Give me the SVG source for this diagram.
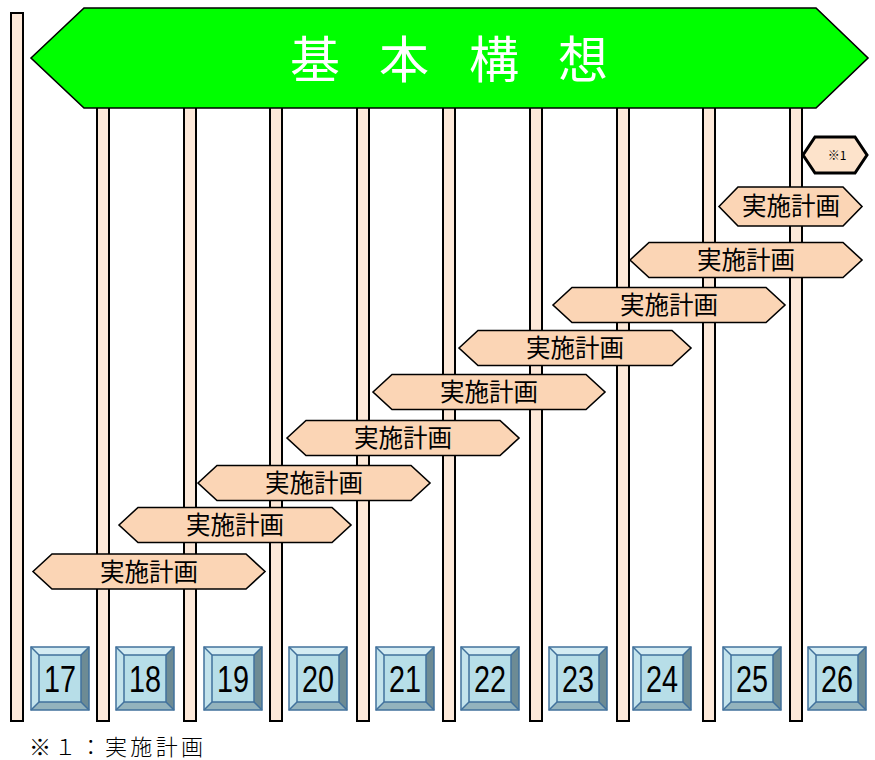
<svg xmlns="http://www.w3.org/2000/svg" xmlns:xlink="http://www.w3.org/1999/xlink" width="875" height="760" viewBox="0 0 875 760">
<style>
.post{fill:#FDE9D9;stroke:#000;stroke-width:2}
.hex{fill:#FBD5B5;stroke:#000;stroke-width:1.6;stroke-linejoin:miter}
.ht{font-family:"Noto Sans CJK JP","Noto Sans",sans-serif;font-size:24.5px;fill:#000;text-anchor:middle}
.num{font-family:"Liberation Sans",Arial,sans-serif;font-size:37px;fill:#000;text-anchor:middle}
.bl{fill:none;stroke:#41719C;stroke-width:1.5}
.tt{font-family:"Noto Sans CJK JP","Noto Sans",sans-serif;font-size:50px;fill:#fff;text-anchor:middle}
.sm{font-family:"Noto Sans CJK JP","Noto Sans",sans-serif;font-size:12px;fill:#000;text-anchor:middle}
.fn{font-family:"Liberation Serif","Noto Sans CJK JP",serif;font-size:22px;font-weight:300;fill:#000}
</style>
<defs>
<path id="hx" d="M0,17.5 L19,0 L213,0 L232,17.5 L213,35 L19,35 Z"/>
<g id="bev">
<rect x="0" y="0" width="58" height="63" fill="#B7DEE8"/>
<polygon points="0,0 58,0 50,8 8,8" fill="#D4ECF3"/>
<polygon points="0,0 8,8 8,55 0,63" fill="#C3E3EC"/>
<polygon points="58,0 58,63 50,55 50,8" fill="#6D8B94"/>
<polygon points="0,63 8,55 50,55 58,63" fill="#93B3BD"/>
<rect class="bl" x="0" y="0" width="58" height="63"/>
<rect class="bl" x="8" y="8" width="42" height="47"/>
<path class="bl" d="M0,0 L8,8 M58,0 L50,8 M0,63 L8,55 M58,63 L50,55"/>
</g>
</defs>
<rect width="875" height="760" fill="#fff"/>
<g id="posts">
<rect class="post" x="11" y="13" width="12" height="708"/>
<rect class="post" x="97" y="100" width="12" height="621"/>
<rect class="post" x="184" y="100" width="12" height="621"/>
<rect class="post" x="270" y="100" width="12" height="621"/>
<rect class="post" x="357" y="100" width="12" height="621"/>
<rect class="post" x="443" y="100" width="12" height="621"/>
<rect class="post" x="530" y="100" width="12" height="621"/>
<rect class="post" x="617" y="100" width="12" height="621"/>
<rect class="post" x="703" y="100" width="12" height="621"/>
<rect class="post" x="790" y="100" width="12" height="621"/>
</g>
<g id="banner">
<polygon points="31,58 84,8 816,8 868,58 816,108 84,108" fill="#00FF00" stroke="#000" stroke-width="1.6"/>
<text class="tt" x="315" y="78">基</text>
<text class="tt" x="404" y="78">本</text>
<text class="tt" x="494" y="78">構</text>
<text class="tt" x="583" y="78">想</text>
</g>
<g id="note1">
<polygon points="803,155 815,137 855,137 867,155 855,173 815,173" fill="#FDE3CB" stroke="#000" stroke-width="3"/>
<text class="sm" x="837" y="160">※1</text>
</g>
<g id="plan1">
<polygon class="hex" points="719,206.5 738,187 843,187 862,206.5 843,226 738,226"/>
<text class="ht" x="791" y="215">実施計画</text>
</g>
<g id="plan2"><use xlink:href="#hx" class="hex" x="630" y="242.5"/><text class="ht" x="746" y="269">実施計画</text></g>
<g id="plan3"><use xlink:href="#hx" class="hex" x="553" y="287.5"/><text class="ht" x="669" y="314">実施計画</text></g>
<g id="plan4"><use xlink:href="#hx" class="hex" x="459" y="330.5"/><text class="ht" x="575" y="357">実施計画</text></g>
<g id="plan5"><use xlink:href="#hx" class="hex" x="373" y="374.5"/><text class="ht" x="489" y="401">実施計画</text></g>
<g id="plan6"><use xlink:href="#hx" class="hex" x="287" y="420.5"/><text class="ht" x="403" y="447">実施計画</text></g>
<g id="plan7"><use xlink:href="#hx" class="hex" x="198" y="465.5"/><text class="ht" x="314" y="492">実施計画</text></g>
<g id="plan8"><use xlink:href="#hx" class="hex" x="119" y="507.5"/><text class="ht" x="235" y="534">実施計画</text></g>
<g id="plan9"><use xlink:href="#hx" class="hex" x="33" y="554"/><text class="ht" x="149" y="580.5">実施計画</text></g>
<g id="y17"><use xlink:href="#bev" x="31" y="647"/><text class="num" x="60" y="692" textLength="32" lengthAdjust="spacingAndGlyphs">17</text></g>
<g id="y18"><use xlink:href="#bev" x="116" y="647"/><text class="num" x="145" y="692" textLength="32" lengthAdjust="spacingAndGlyphs">18</text></g>
<g id="y19"><use xlink:href="#bev" x="204" y="647"/><text class="num" x="233" y="692" textLength="32" lengthAdjust="spacingAndGlyphs">19</text></g>
<g id="y20"><use xlink:href="#bev" x="289" y="647"/><text class="num" x="318" y="692" textLength="32" lengthAdjust="spacingAndGlyphs">20</text></g>
<g id="y21"><use xlink:href="#bev" x="376" y="647"/><text class="num" x="405" y="692" textLength="32" lengthAdjust="spacingAndGlyphs">21</text></g>
<g id="y22"><use xlink:href="#bev" x="461" y="647"/><text class="num" x="490" y="692" textLength="32" lengthAdjust="spacingAndGlyphs">22</text></g>
<g id="y23"><use xlink:href="#bev" x="549" y="647"/><text class="num" x="578" y="692" textLength="32" lengthAdjust="spacingAndGlyphs">23</text></g>
<g id="y24"><use xlink:href="#bev" x="633" y="647"/><text class="num" x="662" y="692" textLength="32" lengthAdjust="spacingAndGlyphs">24</text></g>
<g id="y25"><use xlink:href="#bev" x="723" y="647"/><text class="num" x="752" y="692" textLength="32" lengthAdjust="spacingAndGlyphs">25</text></g>
<g id="y26"><use xlink:href="#bev" x="808" y="647"/><text class="num" x="837" y="692" textLength="32" lengthAdjust="spacingAndGlyphs">26</text></g>
<g id="footnote">
<text class="fn" x="29" y="755" textLength="174" lengthAdjust="spacing">※１：実施計画</text>
</g>
</svg>
